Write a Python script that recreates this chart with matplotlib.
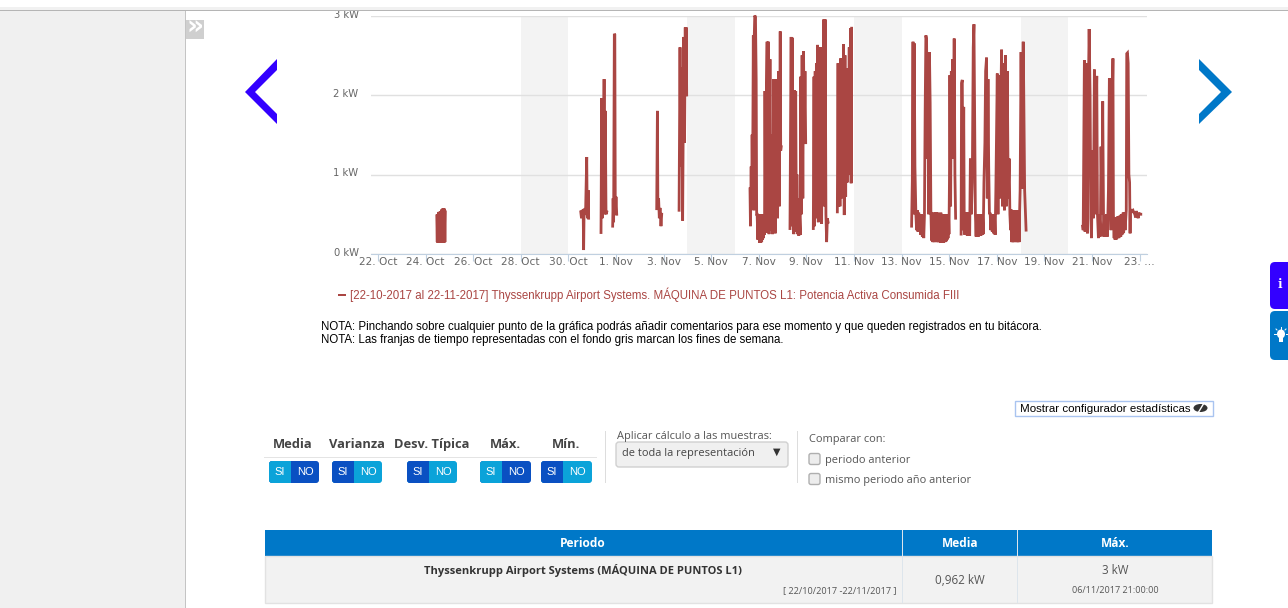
import matplotlib
matplotlib.use("Agg")
import matplotlib.pyplot as plt
from matplotlib.patches import FancyBboxPatch, Polygon, Rectangle, Ellipse
from matplotlib.transforms import ScaledTranslation

# days counted from 22 Oct 00:00, values in kW
days_a = [2.47, 2.49, 2.50, 2.52, 2.54, 2.56, 2.57, 2.59, 2.61, 2.63, 2.64, 2.66, 2.68, 2.70, 2.71, 2.73, 2.75, 2.77, 2.79, 2.81, 2.83]
kw_a = [0.48, 0.15, 0.50, 0.14, 0.52, 0.14, 0.53, 0.14, 0.53, 0.14, 0.54, 0.14, 0.56, 0.14, 0.57, 0.14, 0.57, 0.14, 0.57, 0.15, 0.53]
days_b = [8.52, 8.55, 8.57, 8.62, 8.64, 8.66, 8.72, 8.77, 8.79, 8.82, 8.84, 8.85]
kw_b = [0.53, 0.45, 0.54, 0.55, 0.05, 0.56, 0.50, 1.22, 0.48, 0.45, 0.80, 0.45]
days_c = [9.37, 9.40, 9.42, 9.44, 9.47, 9.50, 9.52, 9.55, 9.58, 9.61]
kw_c = [0.27, 1.96, 0.45, 1.90, 0.70, 2.20, 0.50, 1.80, 0.50, 0.53]
days_d = [9.86, 9.88, 9.90, 9.93, 9.95, 9.97, 10.00, 10.03]
kw_d = [0.35, 0.70, 0.40, 2.77, 2.76, 0.50, 0.72, 0.50]
days_e = [11.71, 11.74, 11.76, 11.79, 11.82, 11.85, 11.89, 11.92]
kw_e = [0.57, 1.80, 0.58, 0.70, 0.45, 0.58, 0.35, 0.50]
days_f = [12.65, 12.69, 12.72, 12.76, 12.80, 12.82, 12.85, 12.88, 12.91, 12.93, 12.95, 12.97]
kw_f = [0.55, 2.60, 1.10, 2.35, 0.42, 1.40, 2.73, 1.40, 2.85, 2.00, 2.85, 2.00]
days_g = [15.63, 15.65, 15.68, 15.70, 15.72, 15.74, 15.77, 15.79, 15.81, 15.83, 15.86, 15.89, 15.91, 15.93, 15.96, 15.98, 16.00, 16.02, 16.04, 16.06, 16.08, 16.10, 16.12, 16.14, 16.16, 16.18, 16.20, 16.22, 16.24, 16.26, 16.28, 16.30, 16.32, 16.35, 16.37, 16.40, 16.43, 16.45, 16.47, 16.50, 16.53, 16.55, 16.58, 16.60, 16.62, 16.64, 16.67, 16.69, 16.71, 16.74, 16.76, 16.79, 16.81, 16.83, 16.86, 16.88, 16.90, 16.92, 16.94]
kw_g = [0.82, 0.35, 1.10, 0.60, 1.50, 0.90, 2.75, 0.55, 2.75, 3.00, 2.98, 2.20, 0.50, 0.50, 0.18, 0.50, 0.18, 0.50, 0.14, 0.50, 0.14, 0.50, 0.15, 0.50, 0.18, 0.50, 0.20, 0.50, 0.24, 2.05, 0.70, 0.27, 2.05, 2.67, 0.60, 2.67, 0.25, 1.20, 2.45, 0.30, 1.50, 0.60, 0.25, 1.10, 2.20, 0.70, 1.50, 0.26, 2.20, 0.80, 2.00, 0.45, 1.60, 2.30, 0.60, 1.50, 2.80, 1.30, 1.35]
days_h = [17.31, 17.34, 17.36, 17.39, 17.41, 17.44, 17.47, 17.49, 17.52, 17.55, 17.58, 17.60, 17.63, 17.65, 17.68, 17.71, 17.74, 17.76, 17.79, 17.82, 17.85, 17.88, 17.91, 17.94, 17.97]
kw_h = [0.32, 1.90, 2.73, 0.35, 2.72, 0.80, 0.25, 2.06, 0.50, 2.05, 0.28, 1.00, 0.25, 0.70, 0.23, 0.50, 0.24, 2.23, 0.50, 2.50, 0.70, 2.55, 1.40, 2.30, 1.40]
days_i = [18.29, 18.32, 18.34, 18.37, 18.39, 18.42, 18.45, 18.47, 18.50, 18.53, 18.55, 18.58, 18.61, 18.64, 18.67, 18.70, 18.73, 18.76, 18.79, 18.82, 18.85, 18.88, 18.91]
kw_i = [0.32, 2.23, 0.35, 2.30, 0.70, 2.40, 0.45, 2.63, 0.40, 1.90, 2.60, 0.60, 2.60, 0.38, 2.55, 1.00, 2.95, 0.60, 2.95, 0.50, 0.15, 0.45, 0.40]
days_j = [19.30, 19.33, 19.35, 19.38, 19.41, 19.44, 19.47, 19.50, 19.53, 19.56, 19.59, 19.62, 19.65, 19.68, 19.71, 19.74, 19.77, 19.80, 19.83, 19.86, 19.88, 19.90]
kw_j = [0.53, 2.40, 0.60, 2.30, 0.60, 2.46, 0.70, 2.46, 1.00, 2.64, 0.49, 2.50, 0.72, 2.33, 0.90, 2.33, 1.30, 2.60, 1.00, 2.84, 0.89, 2.84]
days_k = [22.42, 22.45, 22.48, 22.50, 22.53, 22.56, 22.60, 22.63, 22.66, 22.69, 22.72, 22.75, 22.78, 22.81, 22.84, 22.87, 22.90, 22.93, 22.96, 22.99, 23.02, 23.05, 23.08, 23.11, 23.14, 23.17, 23.20, 23.23, 23.26, 23.29, 23.31, 23.33, 23.35, 23.37, 23.39, 23.41, 23.43, 23.45, 23.47, 23.49, 23.51, 23.53, 23.55, 23.57, 23.59, 23.61, 23.63, 23.65, 23.67, 23.69, 23.71, 23.73, 23.75, 23.77, 23.79, 23.81, 23.83, 23.85, 23.87, 23.89, 23.91, 23.93, 23.95, 23.97, 23.99, 24.01, 24.03, 24.06, 24.09, 24.12, 24.15, 24.18, 24.21, 24.24, 24.27]
kw_k = [0.35, 0.92, 2.67, 0.50, 2.65, 1.10, 0.50, 0.30, 0.55, 0.28, 0.52, 0.35, 0.50, 0.24, 0.50, 0.22, 0.48, 0.20, 0.48, 1.80, 2.75, 2.70, 1.20, 2.20, 0.50, 2.54, 1.90, 0.55, 0.17, 0.50, 0.15, 0.52, 0.15, 0.50, 0.15, 0.52, 0.16, 0.52, 0.15, 0.50, 0.15, 0.52, 0.15, 0.50, 0.15, 0.50, 0.14, 0.52, 0.14, 0.50, 0.14, 0.50, 0.14, 0.50, 0.15, 0.50, 0.15, 0.50, 0.16, 0.50, 0.18, 0.48, 0.20, 0.50, 0.25, 0.90, 2.25, 0.60, 2.30, 1.20, 2.45, 1.50, 2.71, 1.00, 0.45]
days_l = [24.50, 24.52, 24.55, 24.58, 24.61, 24.63, 24.66, 24.68, 24.71, 24.73, 24.76, 24.78, 24.81, 24.83, 24.86, 24.89, 24.93, 24.97, 25.01, 25.04, 25.07, 25.10, 25.13, 25.15, 25.18, 25.20, 25.23, 25.25, 25.28, 25.30, 25.33, 25.35, 25.38, 25.40, 25.43, 25.46, 25.50, 25.53, 25.57, 25.60, 25.63, 25.66, 25.69, 25.72, 25.75, 25.78, 25.81, 25.84, 25.87, 25.90, 25.93, 25.96, 26.02, 26.05, 26.08, 26.12, 26.16, 26.20, 26.24, 26.28, 26.32, 26.36, 26.40, 26.44, 26.48, 26.52, 26.55, 26.58, 26.60, 26.62, 26.64, 26.66, 26.68, 26.70, 26.72, 26.74, 26.76, 26.78, 26.80, 26.82, 26.84, 26.86, 26.88, 26.90, 26.92, 26.94, 26.96, 26.98, 27.02, 27.06, 27.09, 27.11, 27.13, 27.17, 27.23]
kw_l = [0.25, 2.15, 2.19, 0.30, 1.85, 0.50, 0.24, 0.52, 0.24, 0.52, 0.23, 0.52, 0.24, 0.52, 0.23, 1.20, 0.50, 0.90, 2.60, 2.89, 1.70, 0.50, 0.22, 0.50, 0.22, 0.50, 0.22, 0.50, 0.23, 0.50, 0.23, 0.50, 0.24, 0.50, 0.25, 0.90, 1.40, 2.30, 2.47, 0.70, 2.20, 1.10, 0.50, 0.52, 0.30, 0.50, 0.28, 0.50, 0.26, 0.50, 0.24, 0.80, 2.27, 0.50, 2.25, 0.70, 1.70, 2.57, 0.60, 2.40, 0.55, 2.50, 0.60, 2.30, 0.70, 1.20, 0.50, 0.30, 0.56, 0.15, 0.55, 0.15, 0.55, 0.15, 0.55, 0.15, 0.55, 0.16, 0.55, 0.15, 0.55, 0.15, 0.55, 0.15, 0.55, 0.15, 0.55, 0.80, 2.54, 0.82, 2.20, 2.67, 2.10, 0.80, 0.30]
days_m = [29.61, 29.63, 29.68, 29.71, 29.74, 29.78, 29.81, 29.84, 29.88, 29.92, 29.95, 29.98, 30.02, 30.06, 30.10, 30.14, 30.17, 30.20, 30.23, 30.27, 30.31, 30.35, 30.38, 30.42, 30.45, 30.49, 30.53, 30.57, 30.61, 30.65, 30.69, 30.73, 30.76, 30.80, 30.84, 30.88, 30.90, 30.93, 30.95, 30.97, 30.99, 31.01, 31.03, 31.05, 31.07, 31.09, 31.11, 31.13, 31.15, 31.17, 31.19, 31.21, 31.23, 31.25, 31.27, 31.29, 31.31, 31.33, 31.35, 31.39, 31.44, 31.46, 31.49, 31.52, 31.55, 31.58, 31.60, 31.61, 31.64, 31.68, 31.72, 31.76, 31.80, 31.83, 31.86, 31.90, 31.94, 31.97, 32.00, 32.05]
kw_m = [0.35, 0.30, 2.44, 0.28, 2.40, 0.70, 0.26, 1.90, 2.83, 2.00, 0.45, 0.20, 1.30, 0.45, 2.32, 0.50, 1.70, 2.24, 0.50, 0.20, 0.50, 0.22, 1.35, 0.50, 1.92, 0.22, 0.48, 0.22, 0.50, 0.22, 0.80, 2.21, 1.00, 0.30, 1.60, 2.46, 0.50, 0.20, 0.46, 0.18, 0.46, 0.18, 0.46, 0.20, 0.47, 0.20, 0.47, 0.20, 0.48, 0.22, 0.48, 0.22, 0.50, 0.24, 0.50, 0.25, 0.52, 0.27, 0.52, 0.30, 0.55, 2.52, 2.53, 2.40, 1.00, 0.90, 0.26, 0.54, 0.55, 0.54, 0.55, 0.52, 0.50, 0.46, 0.54, 0.50, 0.45, 0.52, 0.50, 0.50]
series = [(days_a, kw_a), (days_b, kw_b), (days_c, kw_c), (days_d, kw_d), (days_e, kw_e), (days_f, kw_f), (days_g, kw_g),
          (days_h, kw_h), (days_i, kw_i), (days_j, kw_j), (days_k, kw_k), (days_l, kw_l), (days_m, kw_m)]

weekends = [(6, 8), (13, 15), (20, 22), (27, 29)]
tick_days = [0, 2, 4, 6, 8, 10, 12, 14, 16, 18, 20, 22, 24, 26, 28, 30, 32]
tick_labels = ["22. Oct", "24. Oct", "26. Oct", "28. Oct", "30. Oct", "1. Nov", "3. Nov", "5. Nov", "7. Nov",
               "9. Nov", "11. Nov", "13. Nov", "15. Nov", "17. Nov", "19. Nov", "21. Nov", "23. …"]
y_ticks = [0, 1, 2, 3]
y_labels = ["0 kW", "1 kW", "2 kW", "3 kW"]

stat_names = ["Media", "Varianza", "Desv. Típica", "Máx.", "Mín."]
stat_centers = [293, 357, 432, 505, 566]
stat_si_on = [False, True, True, False, True]

W, H = 1288, 608
RED = "#AA4643"
BLUE = "#0078C8"
LIGHT_BTN = "#0BA3D9"
DARK_BTN = "#0A50C2"

fig = plt.figure(figsize=(W / 100, H / 100), dpi=100)
fig.patch.set_facecolor("white")

# chart, placed on the page by pixels
left, right, top, bottom = 371, 1147, 15.5, 254
ax = fig.add_axes([left / W, 1 - bottom / H, (right - left) / W, (bottom - top) / H], zorder=2)
ax.patch.set_alpha(0)
ax.set_xlim((left - 378) / 23.8, (right - 378) / 23.8)
ax.set_ylim(0, 3)
for a, b in weekends:
    ax.axvspan(a, b, color="#F3F3F3", lw=0, zorder=0)
ax.set_yticks(y_ticks)
ax.set_yticklabels(y_labels, fontsize=7.2, color="#666666")
ax.set_xticks(tick_days)
ax.set_xticklabels(tick_labels, fontsize=7.6, color="#666666")
ax.tick_params(axis="y", length=0, pad=9)
ax.tick_params(axis="x", length=5, color="#C0D0E0", pad=-3)
ax.grid(axis="y", color="#E0E0E0", lw=1)
ax.set_axisbelow(True)
for s in ["top", "right", "left"]:
    ax.spines[s].set_visible(False)
ax.spines["bottom"].set_color("#C0D0E0")
for lab in ax.get_yticklabels():
    lab.set_transform(lab.get_transform() + ScaledTranslation(0, 2 / 100, fig.dpi_scale_trans))
for d, v in series:
    ax.plot(d, v, color=RED, lw=2.0, clip_on=False, solid_joinstyle="miter", zorder=3)

# page furniture, in pixel coordinates
ui = fig.add_axes([0, 0, 1, 1], zorder=3)
ui.set_xlim(0, W)
ui.set_ylim(H, 0)
ui.axis("off")


def box(x0, y0, x1, y1, fc, ec="none", lw=0, z=1):
    ui.add_patch(Rectangle((x0, y0), x1 - x0, y1 - y0, fc=fc, ec=ec, lw=lw, zorder=z))


def label(x, y, s, size=8.3, color="black", ha="left", bold=False, family="Liberation Sans"):
    # both fonts sit a little high with va=center
    y = y + (1.5 if family == "Open Sans" else 1)
    ui.text(x, y, s, fontsize=size, color=color, ha=ha, va="center", family=family,
            fontweight="bold" if bold else "normal", zorder=5)


box(0, 0, W, 7, "white")
box(0, 7, W, 10, "#F1F1F1")
box(0, 10, W, 11, "#B5B5B5")
box(0, 11, 185, H, "#F0F0F0")
box(185, 11, 186, H, "#C4C4C4")
box(186, 20, 204, 39, "#CFCFCF")
label(195, 27, "»", size=19, color="white", ha="center", bold=True, family="DejaVu Sans")

ui.add_patch(Polygon([(277, 59), (245, 92), (277, 124), (277, 114), (255, 92), (277, 70)], fc="#3300FF", ec="none"))
ui.add_patch(Polygon([(1199, 59), (1232, 92), (1199, 124), (1199, 114), (1221, 92), (1199, 70)], fc=BLUE, ec="none"))

# legend and notes
box(338, 294, 346, 296, RED)
label(350, 294, "[22-10-2017 al 22-11-2017] Thyssenkrupp Airport Systems. MÁQUINA DE PUNTOS L1: Potencia Activa Consumida FIII", color=RED)
label(321, 326, "NOTA: Pinchando sobre cualquier punto de la gráfica podrás añadir comentarios para ese momento y que queden registrados en tu bitácora.")
label(321, 339, "NOTA: Las franjas de tiempo representadas con el fondo gris marcan los fines de semana.")

# side tabs
ui.add_patch(FancyBboxPatch((1270, 262), 30, 47, boxstyle="round,pad=0,rounding_size=5", fc="#3300FF", ec="none"))
ui.add_patch(FancyBboxPatch((1270, 311), 30, 49, boxstyle="round,pad=0,rounding_size=5", fc=BLUE, ec="none"))
label(1280, 283, "i", size=8.5, color="white", ha="center", bold=True, family="DejaVu Serif")
ui.add_patch(Ellipse((1281, 334), 8, 9, fc="white", ec="none", zorder=5))
box(1279, 338, 1283, 342, "white", z=5)
for x0, y0, x1, y1 in [(1274, 334, 1276, 334), (1286, 334, 1288, 334), (1281, 327, 1281, 329), (1276, 329, 1277, 330), (1286, 329, 1285, 330)]:
    ui.plot([x0, x1], [y0, y1], color="white", lw=0.7, zorder=5)

# config button
box(1015, 401, 1213, 416, "white", ec="#A9C4F0", lw=1)
label(1020, 408, "Mostrar configurador estadísticas", size=8.25)
ui.add_patch(Ellipse((1200.5, 408), 14, 8, fc="#333333", ec="none", zorder=5))
ui.plot([1204, 1198], [403, 413], color="white", lw=1, zorder=6)

# statistics toggles
box(264, 457, 597, 458, "#E4E4E4")
btn_x = [(269, 291, 319), (332, 354, 382), (407, 429, 457), (480, 502, 531), (541, 563, 592)]
for name, cx, si_on, (x0, xm, x1) in zip(stat_names, stat_centers, stat_si_on, btn_x):
    label(cx, 443, name, size=9.3, color="#444444", ha="center", bold=True, family="Open Sans")
    si_col, no_col = (DARK_BTN, LIGHT_BTN) if si_on else (LIGHT_BTN, DARK_BTN)
    p = FancyBboxPatch((x0, 461), x1 - x0, 22, boxstyle="round,pad=0,rounding_size=3", fc=no_col, ec="none", zorder=2)
    ui.add_patch(p)
    q = FancyBboxPatch((x0, 461), x1 - x0, 22, boxstyle="round,pad=0,rounding_size=3", fc=si_col, ec="none", zorder=3)
    ui.add_patch(q)
    q.set_clip_path(Rectangle((x0, 461), xm - x0, 22, transform=ui.transData))
    label((x0 + xm) / 2, 471, "SI", size=8, color="white", ha="center")
    label((xm + x1) / 2, 471, "NO", size=8, color="white", ha="center")

# calc selector
box(605, 431, 606, 483, "#DDDDDD")
box(797, 431, 798, 483, "#DDDDDD")
label(617, 435, "Aplicar cálculo a las muestras:", size=7.9, color="#555555", family="Open Sans")
ui.add_patch(FancyBboxPatch((616, 442), 172, 25, boxstyle="round,pad=0,rounding_size=3", fc="#F0F0F0", ec="#D0D0D0", lw=1))
label(622, 452, "de toda la representación", size=7.9, color="#444444", family="Open Sans")
label(777, 451, "▼", size=7, color="#333333", ha="center", family="DejaVu Sans")
label(809, 438, "Comparar con:", size=7.9, color="#555555", family="Open Sans")
for yy, txt in [(459, "periodo anterior"), (479, "mismo periodo año anterior")]:
    ui.add_patch(FancyBboxPatch((809, yy - 5.5), 11, 11, boxstyle="round,pad=0,rounding_size=2", fc="#EDEDED", ec="#AFAFAF", lw=1))
    label(825, yy - 0.5, txt, size=7.9, color="#555555", family="Open Sans")

# table
box(265, 530, 1212, 556, BLUE)
box(265, 556, 1212, 603, "#F2F2F2", ec="#E2E2E2", lw=1)
for xx in [902, 1017]:
    box(xx, 530, xx + 1, 603, "#DDE5EC")
label(583, 542, "Periodo", size=8.6, color="white", ha="center", bold=True, family="Open Sans")
label(960, 542, "Media", size=8.6, color="white", ha="center", bold=True, family="Open Sans")
label(1115, 542, "Máx.", size=8.6, color="white", ha="center", bold=True, family="Open Sans")
label(583, 569, "Thyssenkrupp Airport Systems (MÁQUINA DE PUNTOS L1)", size=8.0, color="#333333", ha="center", bold=True, family="Open Sans")
label(897, 589, "[ 22/10/2017 -22/11/2017 ]", size=6.6, color="#555555", ha="right", family="Open Sans")
label(960, 578.5, "0,962 kW", size=8.4, color="#555555", ha="center", family="Open Sans")
label(1115, 569, "3 kW", size=8.4, color="#555555", ha="center", family="Open Sans")
label(1115, 589, "06/11/2017 21:00:00", size=6.5, color="#555555", ha="center", family="Open Sans")

fig.savefig("out.png", dpi=100)
